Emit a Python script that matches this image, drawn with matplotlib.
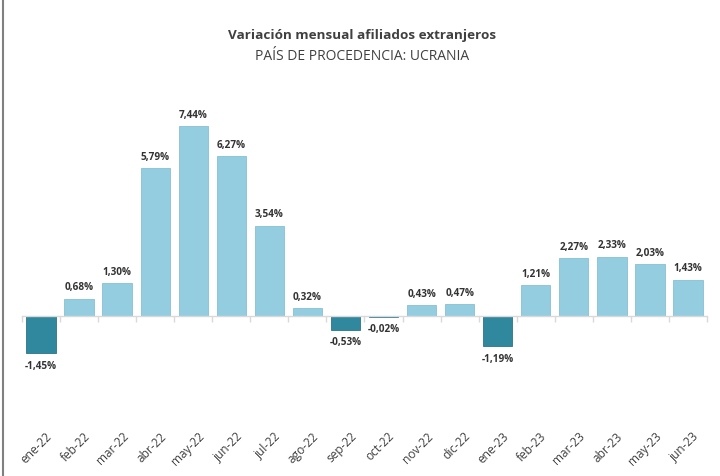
import matplotlib
matplotlib.use("Agg")
import matplotlib.pyplot as plt
from matplotlib.lines import Line2D
import numpy as np

# data
meses = ["ene-22", "feb-22", "mar-22", "abr-22", "may-22", "jun-22", "jul-22",
         "ago-22", "sep-22", "oct-22", "nov-22", "dic-22", "ene-23", "feb-23",
         "mar-23", "abr-23", "may-23", "jun-23"]
variacion = [-1.45, 0.68, 1.30, 5.79, 7.44, 6.27, 3.54, 0.32, -0.53, -0.02,
             0.43, 0.47, -1.19, 1.21, 2.27, 2.33, 2.03, 1.43]

plt.rcParams['font.family'] = ['Open Sans', 'DejaVu Sans']

col_pos = '#93cddf'
col_neg = '#2f889e'

fig = plt.figure(figsize=(7.2, 4.77), dpi=100)
# axes area: zero line at y=317px, 25.5 px per percent
ax = fig.add_axes([22/720, 1 - 400/477, 685/720, 300/477])

x = np.arange(len(meses))
colores = [col_neg if v < 0 else col_pos for v in variacion]
bordes = ['#2a7488' if v < 0 else '#86c2d4' for v in variacion]
ax.bar(x, variacion, width=0.77, color=colores, edgecolor=bordes, linewidth=0.6)

ax.set_xlim(-0.5, len(meses) - 0.5)
ax.set_ylim(-3.25, 8.5)

for s in ['top', 'right', 'left']:
    ax.spines[s].set_visible(False)
ax.spines['bottom'].set_position(('data', 0))
ax.spines['bottom'].set_color('#d9d9d9')
ax.spines['bottom'].set_linewidth(1.0)
ax.set_yticks([])
ax.set_xticks(np.arange(-0.5, len(meses)), minor=True)
ax.set_xticks([])
ax.tick_params(axis='x', which='minor', length=4, color='#d9d9d9', width=1.0)

# value labels
for xi, v in zip(x, variacion):
    txt = f"{v:.2f}".replace('.', ',') + '%'
    if v >= 0:
        ax.annotate(txt, (xi, v), xytext=(0, 4.5), textcoords='offset points',
                    ha='center', va='bottom', fontsize=7.2, fontweight='bold',
                    color='#333333')
    else:
        ax.annotate(txt, (xi, v), xytext=(0, -5), textcoords='offset points',
                    ha='center', va='top', fontsize=7.2, fontweight='bold',
                    color='#333333')

# month labels at the bottom
for xi, m in zip(x, meses):
    ax.text(xi + 0.12, -0.1, m, transform=ax.get_xaxis_transform(),
            rotation=45, ha='right', va='top', rotation_mode='anchor',
            fontsize=8.6, color='#404040')

fig.text(0.503, 1 - 36/477, 'Variación mensual afiliados extranjeros',
         ha='center', va='center', fontsize=9.7, fontweight='bold', color='#404040')
fig.text(0.503, 1 - 56/477, 'PAÍS DE PROCEDENCIA: UCRANIA',
         ha='center', va='center', fontsize=10, color='#404040')

fig.add_artist(Line2D([3/720, 3/720], [0, 1], color='#808080', linewidth=1.5))

fig.savefig('out.png', dpi=100)
